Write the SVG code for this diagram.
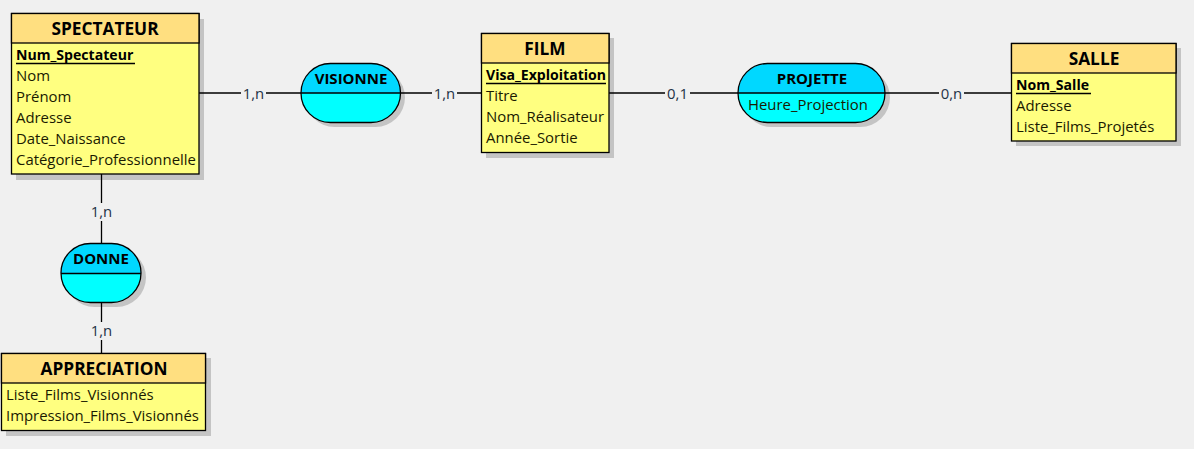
<svg xmlns="http://www.w3.org/2000/svg" width="1194" height="449" viewBox="0 0 1194 449">
<style>
text{font-family:"Open Sans","Noto Sans","DejaVu Sans",sans-serif;}
.sh{fill:#c4c4c4;}
.hd{fill:#ffdf80;stroke:#000;stroke-width:1.3;}
.bd{fill:#ffff80;stroke:#000;stroke-width:1.3;}
.title{font-size:17.3px;font-weight:bold;fill:#000;text-anchor:middle;}
.att{font-size:14.9px;fill:#1a1a00;}
.key{font-size:14.1px;font-weight:bold;fill:#000;}
.ul{stroke:#000;stroke-width:1.3;}
.atop{fill:#00d8ff;}
.abot{fill:#00ffff;}
.aout{fill:none;stroke:#000;stroke-width:1.3;}
.atitle{font-size:15px;font-weight:bold;fill:#000;text-anchor:middle;}
.card{font-size:14.9px;fill:#1f3347;text-anchor:middle;}
.ln{stroke:#000;stroke-width:1.3;fill:none;}
.lbg{fill:#f0f0f0;}
</style>
<rect width="1194" height="449" fill="#f0f0f0"/>

<g id="SPECTATEUR">
<rect class="sh" x="16" y="19" width="188" height="161"/>
<rect class="bd" x="11.5" y="13.5" width="187.5" height="160.5"/>
<rect class="hd" x="11.5" y="13.5" width="187.5" height="29.5"/>
<text class="title" x="105" y="35">SPECTATEUR</text>
<text class="key" x="16" y="60">Num_Spectateur</text>
<line class="ul" x1="16" y1="63.5" x2="135" y2="63.5"/>
<text class="att" x="16" y="81">Nom</text>
<text class="att" x="16" y="102">Prénom</text>
<text class="att" x="16" y="123">Adresse</text>
<text class="att" x="16" y="144">Date_Naissance</text>
<text class="att" x="16" y="165">Catégorie_Professionnelle</text>
</g>

<g id="VISIONNE">
<rect class="sh" x="305" y="68" width="100" height="59" rx="29.5" ry="29.5"/>
<path class="atop" d="M301,93 A29.5,29.5 0 0 1 330.5,63.5 L371,63.5 A29.5,29.5 0 0 1 400.5,93 Z"/>
<path class="abot" d="M301,93 A29.5,29.5 0 0 0 330.5,122.5 L371,122.5 A29.5,29.5 0 0 0 400.5,93 Z"/>
<rect class="aout" x="301" y="63.5" width="99.5" height="59" rx="29.5" ry="29.5"/>
<line class="ln" x1="301" y1="93" x2="400.5" y2="93"/>
<text class="atitle" x="351" y="84">VISIONNE</text>
</g>

<g id="FILM">
<rect class="sh" x="486" y="38" width="128" height="120"/>
<rect class="bd" x="481.5" y="33.5" width="127.5" height="119"/>
<rect class="hd" x="481.5" y="33.5" width="127.5" height="29.5"/>
<text class="title" x="545" y="55">FILM</text>
<text class="key" x="486" y="80">Visa_Exploitation</text>
<line class="ul" x1="486" y1="83.5" x2="606" y2="83.5"/>
<text class="att" x="486" y="101">Titre</text>
<text class="att" x="486" y="122">Nom_Réalisateur</text>
<text class="att" x="486" y="143">Année_Sortie</text>
</g>

<g id="PROJETTE">
<rect class="sh" x="742" y="68" width="148" height="59" rx="29.5" ry="29.5"/>
<path class="atop" d="M738,93 A29.5,29.5 0 0 1 767.5,63.5 L855.5,63.5 A29.5,29.5 0 0 1 885,93 Z"/>
<path class="abot" d="M738,93 A29.5,29.5 0 0 0 767.5,122.5 L855.5,122.5 A29.5,29.5 0 0 0 885,93 Z"/>
<rect class="aout" x="738" y="63.5" width="147" height="59" rx="29.5" ry="29.5"/>
<line class="ln" x1="738" y1="93" x2="885" y2="93"/>
<text class="atitle" x="812" y="84">PROJETTE</text>
<text class="att" x="748" y="110">Heure_Projection</text>
</g>

<g id="SALLE">
<rect class="sh" x="1016" y="48" width="165" height="98"/>
<rect class="bd" x="1011.5" y="43.5" width="164.5" height="97.5"/>
<rect class="hd" x="1011.5" y="43.5" width="164.5" height="29.5"/>
<text class="title" x="1094" y="65">SALLE</text>
<text class="key" x="1016" y="90">Nom_Salle</text>
<line class="ul" x1="1016" y1="93.5" x2="1091" y2="93.5"/>
<text class="att" x="1016" y="111">Adresse</text>
<text class="att" x="1016" y="132">Liste_Films_Projetés</text>
</g>

<g id="DONNE">
<rect class="sh" x="65" y="248" width="81" height="59" rx="29.5" ry="29.5"/>
<path class="atop" d="M61,273.5 A29.5,29.5 0 0 1 90.5,243.5 L111.5,243.5 A29.5,29.5 0 0 1 141,273.5 Z"/>
<path class="abot" d="M61,273.5 A29.5,29.5 0 0 0 90.5,302.5 L111.5,302.5 A29.5,29.5 0 0 0 141,273.5 Z"/>
<rect class="aout" x="61" y="243.5" width="80" height="59" rx="29.5" ry="29.5"/>
<line class="ln" x1="61" y1="273.5" x2="141" y2="273.5"/>
<text class="atitle" x="101" y="264">DONNE</text>
</g>

<g id="APPRECIATION">
<rect class="sh" x="6" y="358" width="205" height="78"/>
<rect class="bd" x="1.5" y="353.5" width="204" height="77"/>
<rect class="hd" x="1.5" y="353.5" width="204" height="29.5"/>
<text class="title" x="104" y="375">APPRECIATION</text>
<text class="att" x="6" y="400">Liste_Films_Visionnés</text>
<text class="att" x="6" y="421">Impression_Films_Visionnés</text>
</g>

<g id="connectors">
<line class="ln" x1="199" y1="93" x2="301" y2="93"/>
<line class="ln" x1="401" y1="93" x2="482" y2="93"/>
<line class="ln" x1="609" y1="93" x2="738" y2="93"/>
<line class="ln" x1="885" y1="93" x2="1012" y2="93"/>
<line class="ln" x1="101.5" y1="174" x2="101.5" y2="243"/>
<line class="ln" x1="101.5" y1="302" x2="101.5" y2="353"/>
<rect class="lbg" x="241" y="84" width="25" height="18"/>
<text class="card" x="253.5" y="98.5">1,n</text>
<rect class="lbg" x="432" y="84" width="25" height="18"/>
<text class="card" x="444.5" y="98.5">1,n</text>
<rect class="lbg" x="665" y="84" width="25" height="18"/>
<text class="card" x="677.5" y="98.5">0,1</text>
<rect class="lbg" x="939" y="84" width="25" height="18"/>
<text class="card" x="951.5" y="98.5">0,n</text>
<rect class="lbg" x="89" y="203" width="25" height="18"/>
<text class="card" x="101.5" y="217">1,n</text>
<rect class="lbg" x="89" y="322" width="25" height="18"/>
<text class="card" x="101.5" y="336">1,n</text>
</g>
</svg>
